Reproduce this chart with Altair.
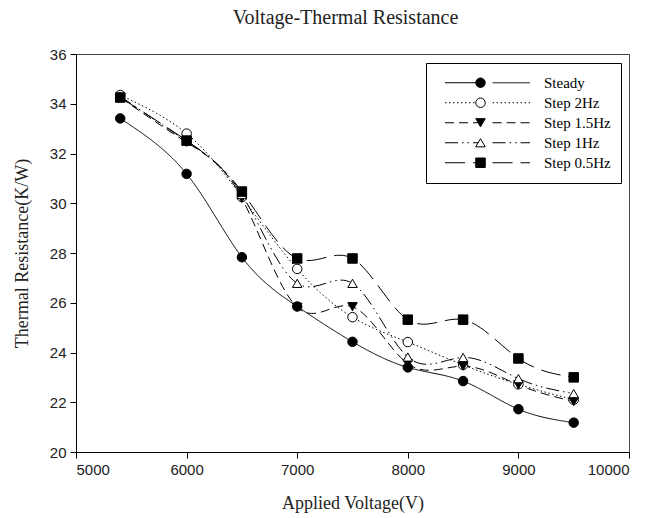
import altair as alt
import pandas as pd

# ---- data ----
voltage = [5400, 6000, 6500, 7000, 7500, 8000, 8500, 9000, 9500]
series_names = ["Steady", "Step 2Hz", "Step 1.5Hz", "Step 1Hz", "Step 0.5Hz"]
marker_names = ["m_Steady", "m_Step 2Hz", "m_Step 1.5Hz", "m_Step 1Hz", "m_Step 0.5Hz"]
steady = [33.41, 31.18, 27.83, 25.85, 24.43, 23.40, 22.85, 21.72, 21.18]
step_2hz = [34.35, 32.80, 30.25, 27.36, 25.42, 24.42, 23.50, 22.72, 22.10]
step_15hz = [34.25, 32.45, 30.20, 25.82, 25.84, 23.55, 23.45, 22.70, 22.03]
step_1hz = [34.30, 32.50, 30.35, 26.78, 26.78, 23.82, 23.80, 22.95, 22.35]
step_05hz = [34.25, 32.52, 30.47, 27.78, 27.78, 25.32, 25.32, 23.76, 23.00]
x_ticks = [5000, 6000, 7000, 8000, 9000, 10000]
y_ticks = [20, 22, 24, 26, 28, 30, 32, 34, 36]

all_series = [steady, step_2hz, step_15hz, step_1hz, step_05hz]
rows = []
for name, mname, vals in zip(series_names, marker_names, all_series):
    for v, r in zip(voltage, vals):
        rows.append({"voltage": v, "resistance": r, "series": name, "marker": mname})
df = pd.DataFrame(rows)

dashes = [[1, 0], [1.5, 2.5], [9, 5], [13, 4, 1.5, 4, 1.5, 4], [20, 8]]
shapes = ["circle", "circle", "triangle-down", "triangle-up", "square"]
fills = ["black", "white", "black", "white", "black"]
strokes = ["black", "black", "black", "black", "black"]

serif = "Liberation Serif"
sans = "Liberation Sans"

x = alt.X(
    "voltage:Q",
    scale=alt.Scale(domain=[5000, 10000], nice=False),
    axis=alt.Axis(values=x_ticks, title="Applied Voltage(V)", format="d", titlePadding=17),
)
y = alt.Y(
    "resistance:Q",
    scale=alt.Scale(domain=[20, 36], nice=False, zero=False),
    axis=alt.Axis(values=y_ticks, title="Thermal Resistance(K/W)", titlePadding=18),
)

LEG_X = 350
LEG_Y = 9

lines = alt.Chart(df).mark_line(interpolate="natural", color="black", strokeWidth=1).encode(
    x=x,
    y=y,
    strokeDash=alt.StrokeDash(
        "series:N",
        scale=alt.Scale(domain=series_names, range=dashes),
        legend=alt.Legend(
            title=None,
            orient="none",
            legendX=LEG_X,
            legendY=LEG_Y,
            symbolType="M0,0H4.4M5.6,0H10",
            symbolSize=289,
            symbolStrokeColor="black",
            symbolStrokeWidth=1,
            labelFont=serif,
            labelFontSize=15,
            labelColor="black",
            labelOffset=90,
            clipHeight=19.5,
            rowPadding=0,
            padding=10,
            strokeColor="black",
            labelLimit=200,
        ),
    ),
)

points = alt.Chart(df).mark_point(size=90, strokeWidth=1, opacity=1, filled=False).encode(
    x=x,
    y=y,
    shape=alt.Shape(
        "marker:N",
        scale=alt.Scale(domain=marker_names, range=shapes),
        legend=alt.Legend(
            title=None,
            orient="none",
            legendX=LEG_X + 37,
            legendY=LEG_Y,
            labelExpr="''",
            symbolSize=90,
            symbolStrokeWidth=1,
            labelFontSize=15,
            clipHeight=19.5,
            rowPadding=0,
            padding=10,
        ),
    ),
    fill=alt.Fill("marker:N", scale=alt.Scale(domain=marker_names, range=fills)),
    stroke=alt.Stroke("marker:N", scale=alt.Scale(domain=marker_names, range=strokes)),
)

chart = (
    alt.layer(lines, points)
    .properties(
        width=553,
        height=398,
        padding={"left": 76, "top": 54, "right": 36, "bottom": 66},
        autosize=alt.AutoSizeParams(type="none"),
        title=alt.TitleParams(
            "Voltage-Thermal Resistance",
            font=serif,
            fontSize=20,
            fontWeight="normal",
            color="#222222",
            anchor="middle",
            dx=-7,
            offset=19,
        ),
    )
    .configure_view(stroke="#444444", strokeWidth=1)
    .configure_axis(
        grid=False,
        domainColor="black",
        tickColor="black",
        tickSize=6,
        labelFont=sans,
        labelFontSize=15,
        labelColor="#222222",
        labelPadding=4,
        titleFont=serif,
        titleFontSize=18,
        titleFontWeight="normal",
        titleColor="#222222",
    )
)

chart.save("out.html", embed_options={"renderer": "svg", "actions": False})
